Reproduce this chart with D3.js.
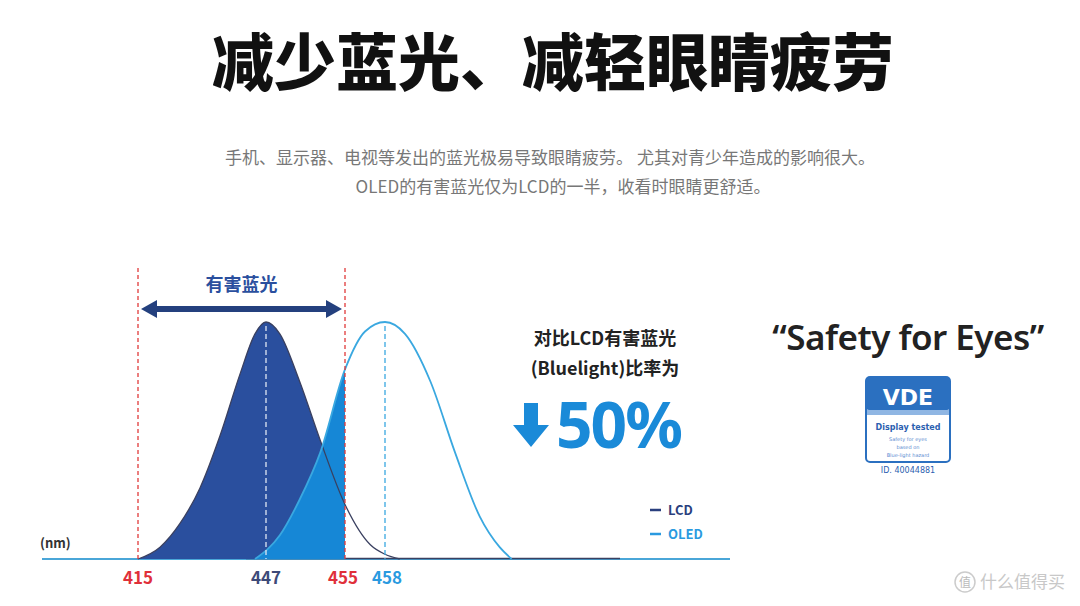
<!DOCTYPE html>
<html><head><meta charset="utf-8">
<script src="https://cdn.jsdelivr.net/npm/d3@7"></script>
<style>body{margin:0;background:#fff}svg{display:block}</style></head>
<body><svg id="c" width="1080" height="606"></svg>
<script>
const tickLabels=[415,447,455,458];
const lcdNm=[415,420.5,425.5,430.5,435.5,440.5,444.25,447,448.4,450.4,452.5,455,456.9,458,459.1];
const lcdVal=[0,0.05,0.15,0.3,0.52,0.78,0.95,1,0.95,0.75,0.5,0.23,0.06,0.02,0];
const oledNm=[444.25,448.4,450.4,452.5,455,456.5,458,459.5,461.4,463.25,465.1,466.6,467.5];
const oledVal=[0,0.1,0.25,0.45,0.8,0.96,1,0.95,0.75,0.45,0.18,0.05,0];
const harmfulRange=[415,455];

const F="'Noto Sans CJK SC','Noto Sans',sans-serif";
const svg=d3.select("#c");
const x=d3.scaleLinear().domain([391,415,447,455,458,485]).range([42,138,266,345,385,745]);
const y=d3.scaleLinear().domain([0,1]).range([559,322]);
const base=y(0);

svg.append("text").attr("x",553).attr("y",86).attr("text-anchor","middle").attr("font-family",F).attr("font-weight",900).attr("font-size",62).attr("fill","#111").text("减少蓝光、减轻眼睛疲劳");
svg.append("text").attr("x",550).attr("y",164).attr("text-anchor","middle").attr("font-family",F).attr("font-size",17).attr("fill","#777").text("手机、显示器、电视等发出的蓝光极易导致眼睛疲劳。 尤其对青少年造成的影响很大。");
svg.append("text").attr("x",563).attr("y",193).attr("text-anchor","middle").attr("font-family",F).attr("font-size",17).attr("fill","#777").text("OLED的有害蓝光仅为LCD的一半，收看时眼睛更舒适。");

const lcd=lcdNm.map((d,i)=>[d,lcdVal[i]]);
const oled=oledNm.map((d,i)=>[d,oledVal[i]]);
const area=d3.area().x(d=>x(d[0])).y0(base).y1(d=>y(d[1])).curve(d3.curveMonotoneX);
const line=d3.line().x(d=>x(d[0])).y(d=>y(d[1])).curve(d3.curveMonotoneX);
svg.append("clipPath").attr("id","cl").append("rect").attr("x",x(harmfulRange[0])).attr("y",0).attr("width",x(harmfulRange[1])-x(harmfulRange[0])).attr("height",base);

svg.append("line").attr("x1",x(391)).attr("x2",730).attr("y1",base).attr("y2",base).attr("stroke","#4aa6d8").attr("stroke-width",2);
svg.append("line").attr("x1",x(442)).attr("x2",620).attr("y1",base-0.5).attr("y2",base-0.5).attr("stroke","#3a4060").attr("stroke-width",1.5);

svg.append("path").datum(lcd).attr("d",area).attr("fill","#2a4f9e").attr("clip-path","url(#cl)");
svg.append("path").datum(oled).attr("d",area).attr("fill","#1687d6").attr("clip-path","url(#cl)");
svg.append("path").datum(lcd).attr("d",line).attr("fill","none").attr("stroke","#3a4060").attr("stroke-width",1.3);
svg.append("path").datum(oled).attr("d",line).attr("fill","none").attr("stroke","#3aa8e0").attr("stroke-width",1.8);

[[415,"#e03a3a",268],[455,"#e03a3a",268]].forEach(([v,c,t])=>svg.append("line").attr("x1",x(v)).attr("x2",x(v)).attr("y1",t).attr("y2",base).attr("stroke",c).attr("stroke-width",1.3).attr("stroke-dasharray","4,3"));
svg.append("line").attr("x1",x(447)).attr("x2",x(447)).attr("y1",y(1)+4).attr("y2",base).attr("stroke","#dfe6f3").attr("stroke-width",1.3).attr("stroke-dasharray","5,3");
svg.append("line").attr("x1",x(458)).attr("x2",x(458)).attr("y1",y(1)+4).attr("y2",base).attr("stroke","#3aa8e0").attr("stroke-width",1.3).attr("stroke-dasharray","5,3");

const ay=309,ax1=x(415)+3,ax2=x(455)-3;
svg.append("line").attr("x1",ax1+12).attr("x2",ax2-12).attr("y1",ay).attr("y2",ay).attr("stroke","#24407e").attr("stroke-width",6);
svg.append("path").attr("d",`M${ax1},${ay}L${ax1+16},${ay-9}L${ax1+16},${ay+9}Z M${ax2},${ay}L${ax2-16},${ay-9}L${ax2-16},${ay+9}Z`).attr("fill","#24407e");
svg.append("text").attr("x",(ax1+ax2)/2).attr("y",291).attr("text-anchor","middle").attr("font-family",F).attr("font-weight",700).attr("font-size",18).attr("fill","#2a4f9e").text("有害蓝光");

const tc={415:"#e0303a",447:"#3d4a78",455:"#e0303a",458:"#2a9ae0"};
tickLabels.forEach(v=>svg.append("text").attr("x",x(v)+(v==455?-2:v==458?2:0)).attr("y",584).attr("text-anchor","middle").attr("font-family",F).attr("font-weight",700).attr("font-size",17).attr("fill",tc[v]).text(v));
svg.append("text").attr("x",40).attr("y",548).attr("font-family",F).attr("font-weight",700).attr("font-size",13).attr("fill","#333").text("(nm)");

[["LCD","#2a3f7e",515],["OLED","#2a9ae0",539]].forEach(([t,c,yy])=>{
 svg.append("line").attr("x1",650).attr("x2",661).attr("y1",yy-5).attr("y2",yy-5).attr("stroke",c).attr("stroke-width",2.5);
 svg.append("text").attr("x",668).attr("y",yy).attr("font-family",F).attr("font-weight",700).attr("font-size",13).attr("fill",c).text(t);
});

svg.append("text").attr("x",605).attr("y",345).attr("text-anchor","middle").attr("font-family",F).attr("font-weight",700).attr("font-size",18).attr("fill","#222").text("对比LCD有害蓝光");
svg.append("text").attr("x",605).attr("y",375).attr("text-anchor","middle").attr("font-family",F).attr("font-weight",700).attr("font-size",18).attr("fill","#222").text("(Bluelight)比率为");
svg.append("path").attr("d","M524,403h14v22h11l-18,22l-18,-22h11z").attr("fill","#1a8ad8");
svg.append("text").attr("x",556).attr("y",448).attr("font-family","'Noto Sans',sans-serif").attr("font-weight",700).attr("font-size",64).attr("letter-spacing",-2).attr("fill","#1a8ad8").text("50%");

svg.append("text").attr("x",908).attr("y",350).attr("text-anchor","middle").attr("font-family","'Noto Sans',sans-serif").attr("font-weight",600).attr("font-size",35).attr("letter-spacing",-0.5).attr("fill","#222").text("\u201CSafety for Eyes\u201D");

const g=svg.append("g");
g.append("rect").attr("x",866).attr("y",377).attr("width",84).attr("height",85).attr("rx",4).attr("fill","#fff").attr("stroke","#2b70c0").attr("stroke-width",2);
g.append("rect").attr("x",866).attr("y",377).attr("width",84).attr("height",33).attr("rx",3).attr("fill","#2b70c0");
g.append("rect").attr("x",867).attr("y",410).attr("width",82).attr("height",5).attr("fill","#8fb6e3");
g.append("text").attr("x",908).attr("y",405).attr("text-anchor","middle").attr("font-family","'DejaVu Sans',sans-serif").attr("font-weight",700).attr("font-size",22).attr("fill","#fff").text("VDE");
g.append("text").attr("x",908).attr("y",430).attr("text-anchor","middle").attr("font-family","'DejaVu Sans',sans-serif").attr("font-weight",700).attr("font-size",8).attr("fill","#2b60b0").text("Display tested");
["Safety for eyes","based on","Blue-light hazard"].forEach((t,i)=>g.append("text").attr("x",908).attr("y",441+i*8).attr("text-anchor","middle").attr("font-family","'DejaVu Sans',sans-serif").attr("font-size",5).attr("fill","#5a8ad0").text(t));
g.append("text").attr("x",908).attr("y",473).attr("text-anchor","middle").attr("font-family","'DejaVu Sans',sans-serif").attr("font-size",8).attr("fill","#2b60b0").text("ID. 40044881");

svg.append("circle").attr("cx",965).attr("cy",582).attr("r",10).attr("fill","none").attr("stroke","#ccc").attr("stroke-width",1.5);
svg.append("text").attr("x",965).attr("y",587).attr("text-anchor","middle").attr("font-family",F).attr("font-size",12).attr("fill","#bbb").text("值");
svg.append("text").attr("x",980).attr("y",588).attr("font-family",F).attr("font-size",17).attr("fill","#c8c8c8").text("什么值得买");
</script></body></html>
